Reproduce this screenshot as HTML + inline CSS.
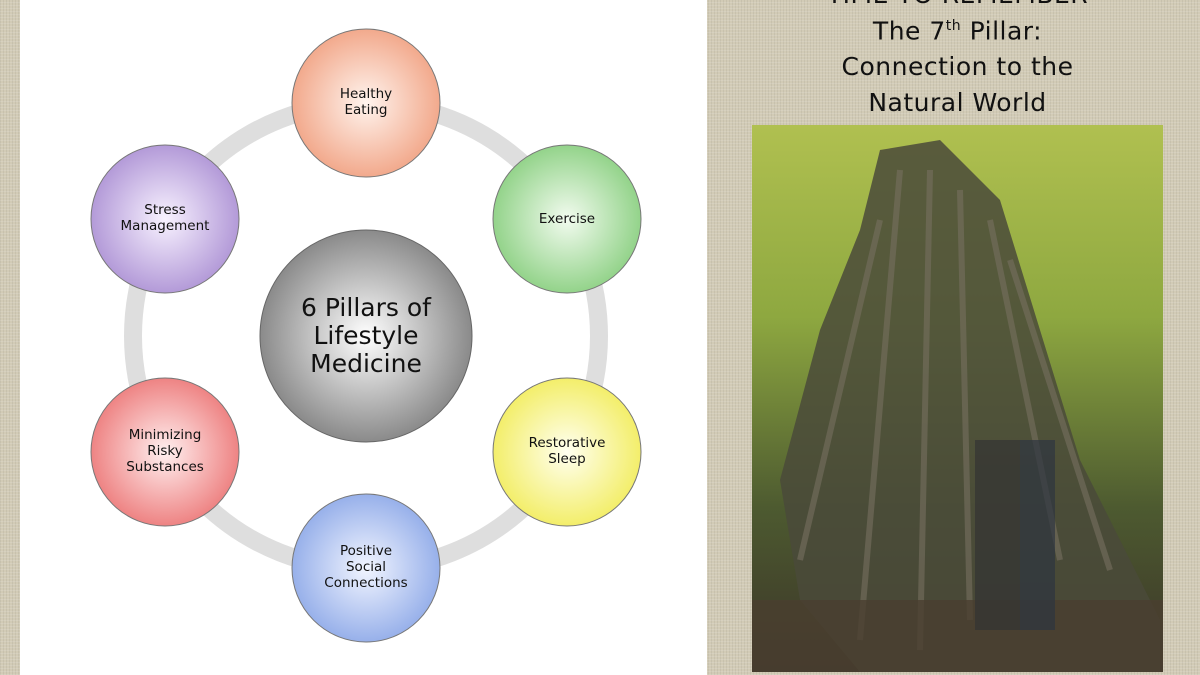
<!DOCTYPE html>
<html><head><style>
html,body{margin:0;padding:0}
body{width:1200px;height:675px;position:relative;overflow:hidden;background:#d2cbb6;
background-image:repeating-linear-gradient(0deg,rgba(255,255,255,.12) 0 1px,transparent 1px 3px),repeating-linear-gradient(90deg,rgba(0,0,0,.05) 0 1px,transparent 1px 3px);
font-family:"Liberation Sans",sans-serif}
.panel{position:absolute;left:20px;top:0;width:687px;height:675px;background:#fff}
.title{position:absolute;left:760px;width:395px;text-align:center;font-family:"DejaVu Sans","Liberation Sans",sans-serif;font-size:25px;color:#111;line-height:36px;letter-spacing:0.5px}
</style></head><body>
<div class="panel"></div>
<svg width="1200" height="675" style="position:absolute;left:0;top:0">
<defs>
<radialGradient id="g0"><stop offset="0" stop-color="#fff"/><stop offset="1" stop-color="#8a8a8a"/></radialGradient>
<radialGradient id="g1"><stop offset="0" stop-color="#fff4ee"/><stop offset="1" stop-color="#f2a98c"/></radialGradient>
<radialGradient id="g2"><stop offset="0" stop-color="#f2fbef"/><stop offset="1" stop-color="#93d38a"/></radialGradient>
<radialGradient id="g3"><stop offset="0" stop-color="#fffff0"/><stop offset="1" stop-color="#f3ee6a"/></radialGradient>
<radialGradient id="g4"><stop offset="0" stop-color="#f2f5ff"/><stop offset="1" stop-color="#97b0ea"/></radialGradient>
<radialGradient id="g5"><stop offset="0" stop-color="#fff0f0"/><stop offset="1" stop-color="#ee8383"/></radialGradient>
<radialGradient id="g6"><stop offset="0" stop-color="#f8f2ff"/><stop offset="1" stop-color="#b39ad8"/></radialGradient>
<linearGradient id="sky" x1="0" y1="0" x2="0" y2="1"><stop offset="0" stop-color="#b0c050"/><stop offset=".35" stop-color="#8ea840"/><stop offset=".7" stop-color="#4d5a30"/><stop offset="1" stop-color="#3b3428"/></linearGradient>
</defs>
<circle cx="366" cy="336" r="233" fill="none" stroke="#dedede" stroke-width="18"/>
<circle cx="366" cy="336" r="106" fill="url(#g0)" stroke="#666" stroke-width="1"/>
<g stroke="#777" stroke-width="1">
<circle cx="366" cy="103" r="74" fill="url(#g1)"/>
<circle cx="567" cy="219" r="74" fill="url(#g2)"/>
<circle cx="567" cy="452" r="74" fill="url(#g3)"/>
<circle cx="366" cy="568" r="74" fill="url(#g4)"/>
<circle cx="165" cy="452" r="74" fill="url(#g5)"/>
<circle cx="165" cy="219" r="74" fill="url(#g6)"/>
</g>
<g font-family="DejaVu Sans, Liberation Sans, sans-serif" font-size="13.5" fill="#111" text-anchor="middle">
<text x="366" y="98">Healthy</text><text x="366" y="114">Eating</text>
<text x="567" y="223">Exercise</text>
<text x="567" y="447">Restorative</text><text x="567" y="463">Sleep</text>
<text x="366" y="555">Positive</text><text x="366" y="571">Social</text><text x="366" y="587">Connections</text>
<text x="165" y="439">Minimizing</text><text x="165" y="455">Risky</text><text x="165" y="471">Substances</text>
<text x="165" y="214">Stress</text><text x="165" y="230">Management</text>
</g>
<g font-family="DejaVu Sans, Liberation Sans, sans-serif" font-size="25" fill="#111" text-anchor="middle">
<text x="366" y="316">6 Pillars of</text><text x="366" y="344">Lifestyle</text><text x="366" y="372">Medicine</text>
</g>
<rect x="752" y="125" width="411" height="547" fill="url(#sky)"/>
<g fill="#4a4a3a" opacity=".85">
<path d="M880 150 L940 140 L1000 200 L1040 330 L1080 460 L1130 560 L1160 620 L1160 672 L860 672 L800 600 L780 480 L820 330 L860 230Z"/>
</g>
<g stroke="#777060" stroke-width="6" opacity=".6" fill="none">
<path d="M900 170 L860 640"/><path d="M930 170 L920 650"/><path d="M960 190 L970 620"/><path d="M990 220 L1060 560"/><path d="M880 220 L800 560"/><path d="M1010 260 L1110 570"/>
</g>
<rect x="752" y="600" width="411" height="72" fill="#4a3e30" opacity=".8"/>
<rect x="975" y="440" width="45" height="190" fill="#333" opacity=".7"/>
<rect x="1020" y="440" width="35" height="190" fill="#2e3440" opacity=".7"/>
</svg>
<div class="title" style="top:-23px">TIME TO REMEMBER</div>
<div class="title" style="top:8px">The 7<sup style="font-size:14px">th</sup> Pillar:<br>Connection to the<br>Natural World</div>
</body></html>
